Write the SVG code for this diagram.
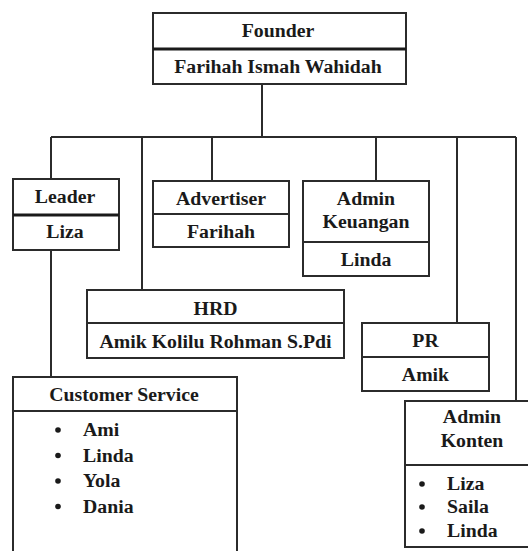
<svg xmlns="http://www.w3.org/2000/svg" width="528" height="551" viewBox="0 0 528 551">
<style>
.box{fill:#fff;stroke:#2b2b2b;stroke-width:2}
.div{stroke:#2b2b2b;stroke-width:2;fill:none}
.thick{stroke:#1a1a1a;stroke-width:3;fill:none}
.con{stroke:#2b2b2b;stroke-width:2;fill:none}
text{font-family:"Liberation Serif","Times New Roman",serif;font-weight:bold;font-size:19.8px;fill:#1a1a1a}
.c{text-anchor:middle}
.dot{fill:#1a1a1a}
</style>
<rect width="528" height="551" fill="#fff"/>
<g id="connectors">
<path class="con" d="M262 84V137M51 137H516M51 137V179M142 137V290M212 137V181M376 137V181M457 137V323M516 137V401M51 250V377"/>
</g>
<g id="founder">
<rect class="box" x="153" y="13" width="253" height="71"/>
<line class="thick" x1="153" y1="49" x2="406" y2="49"/>
<text class="c" x="278" y="37">Founder</text>
<text class="c" x="278" y="73">Farihah Ismah Wahidah</text>
</g>
<g id="leader">
<rect class="box" x="13" y="179" width="106" height="71"/>
<line class="thick" x1="13" y1="215" x2="119" y2="215"/>
<text class="c" x="65" y="203">Leader</text>
<text class="c" x="65" y="238">Liza</text>
</g>
<g id="advertiser">
<rect class="box" x="153" y="181" width="136" height="66"/>
<line class="div" x1="153" y1="214" x2="289" y2="214"/>
<text class="c" x="221" y="205">Advertiser</text>
<text class="c" x="221" y="238">Farihah</text>
</g>
<g id="admin-keuangan">
<rect class="box" x="303" y="181" width="126" height="95"/>
<line class="div" x1="303" y1="242" x2="429" y2="242"/>
<text class="c" x="366" y="205">Admin</text>
<text class="c" x="366" y="228">Keuangan</text>
<text class="c" x="366" y="266">Linda</text>
</g>
<g id="hrd">
<rect class="box" x="87" y="290" width="257" height="68"/>
<line class="div" x1="87" y1="323" x2="344" y2="323"/>
<text class="c" x="215.5" y="315">HRD</text>
<text class="c" x="215.5" y="348">Amik Kolilu Rohman S.Pdi</text>
</g>
<g id="pr">
<rect class="box" x="362" y="323" width="127" height="68"/>
<line class="div" x1="362" y1="357" x2="489" y2="357"/>
<text class="c" x="425.5" y="347">PR</text>
<text class="c" x="425.5" y="381">Amik</text>
</g>
<g id="customer-service">
<path class="div" d="M13 551V377H237V551M13 411H237"/>
<text class="c" x="124" y="401">Customer Service</text>
<circle class="dot" cx="58" cy="430" r="2.8"/>
<circle class="dot" cx="58" cy="455.5" r="2.8"/>
<circle class="dot" cx="58" cy="481" r="2.8"/>
<circle class="dot" cx="58" cy="506.5" r="2.8"/>
<text x="83" y="436">Ami</text>
<text x="83" y="461.5">Linda</text>
<text x="83" y="487">Yola</text>
<text x="83" y="512.5">Dania</text>
</g>
<g id="admin-konten">
<path class="div" d="M529 401H405V547H529M405 465H529"/>
<text class="c" x="472" y="423">Admin</text>
<text class="c" x="472" y="447">Konten</text>
<circle class="dot" cx="422" cy="484" r="2.8"/>
<circle class="dot" cx="422" cy="507" r="2.8"/>
<circle class="dot" cx="422" cy="531" r="2.8"/>
<text x="447" y="490">Liza</text>
<text x="447" y="513">Saila</text>
<text x="447" y="537">Linda</text>
</g>
</svg>
